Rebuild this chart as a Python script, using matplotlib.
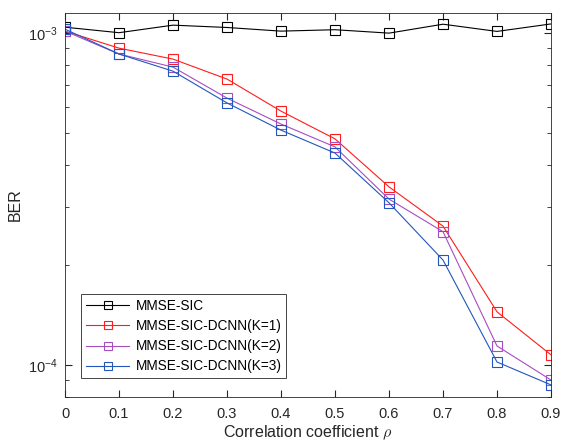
import numpy as np
import matplotlib
matplotlib.use('Agg')
import matplotlib.pyplot as plt

plt.rcParams['font.family'] = ['Liberation Sans', 'DejaVu Sans']
plt.rcParams['mathtext.fontset'] = 'cm'

# correlation coefficient values
rho = [0, 0.1, 0.2, 0.3, 0.4, 0.5, 0.6, 0.7, 0.8, 0.9]

# BER per detector
ber_sic = [1.042e-3, 1.003e-3, 1.057e-3, 1.040e-3, 1.014e-3, 1.024e-3, 1.0e-3, 1.064e-3, 1.012e-3, 1.066e-3]
ber_k1 = [1.014e-3, 9.01e-4, 8.35e-4, 7.27e-4, 5.82e-4, 4.80e-4, 3.44e-4, 2.62e-4, 1.445e-4, 1.072e-4]
ber_k2 = [1.014e-3, 8.65e-4, 7.90e-4, 6.37e-4, 5.32e-4, 4.54e-4, 3.16e-4, 2.52e-4, 1.14e-4, 9.0e-5]
ber_k3 = [1.028e-3, 8.65e-4, 7.68e-4, 6.16e-4, 5.10e-4, 4.35e-4, 3.08e-4, 2.07e-4, 1.02e-4, 8.7e-5]

labels = ['MMSE-SIC', 'MMSE-SIC-DCNN(K=1)', 'MMSE-SIC-DCNN(K=2)', 'MMSE-SIC-DCNN(K=3)']
colors = ['#000000', '#ff1c1c', '#a64dbf', '#2356bd']

fig = plt.figure(figsize=(5.64, 4.45), dpi=100)
ax = fig.add_axes([65/564, 1-397/445, 486/564, 384/445])

for y, lab, c in zip([ber_sic, ber_k1, ber_k2, ber_k3], labels, colors):
    ax.semilogy(rho, y, '-s', color=c, lw=0.8, ms=6.5, mfc='none', mec=c, mew=0.8, label=lab)

ax.set_xlim(0, 0.9)
ax.set_ylim(8.0e-5, 1.15e-3)
ax.set_xticks(rho)
ax.set_xticklabels(['0', '0.1', '0.2', '0.3', '0.4', '0.5', '0.6', '0.7', '0.8', '0.9'])
ax.tick_params(which='both', direction='in', top=True, right=True, labelsize=10.5, colors='#262626')
ax.tick_params(axis='x', pad=7)
ax.tick_params(axis='y', pad=5)
ax.tick_params(which='major', length=5)
ax.tick_params(which='minor', length=3)
for s in ax.spines.values():
    s.set_color('#262626')
    s.set_linewidth(0.6)

ax.set_xlabel(r'Correlation coefficient $\rho$', fontsize=11.5, color='#262626', labelpad=2)
ax.set_ylabel('BER', fontsize=11.5, color='#262626')

leg = ax.legend(loc='lower left', bbox_to_anchor=(0.033, 0.049), borderaxespad=0,
                fontsize=9.8, fancybox=False, framealpha=1, edgecolor='#262626',
                handlelength=3.2, borderpad=0.35, labelspacing=0.45, handletextpad=0.45,
                markerscale=0.8)
leg.get_frame().set_linewidth(0.6)

plt.savefig('out.png', dpi=100)
